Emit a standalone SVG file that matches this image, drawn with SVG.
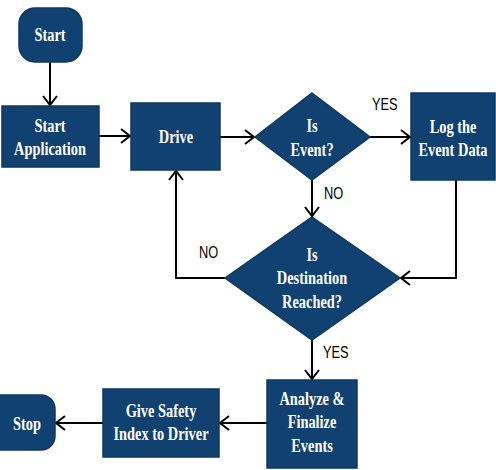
<svg xmlns="http://www.w3.org/2000/svg" width="496" height="470" viewBox="0 0 496 470">
<defs>
<marker id="ah" markerWidth="12" markerHeight="16" refX="10" refY="8" orient="auto" markerUnits="userSpaceOnUse">
<path d="M1,1 L10,8 L1,15" fill="none" stroke="#000" stroke-width="2"/>
</marker>
<style>
.n{fill:#114171;stroke:#0d3862;stroke-width:1.5}
.t{font-family:"Liberation Serif",serif;font-weight:bold;font-size:18px;fill:#fff;text-anchor:middle}
.l{font-family:"Liberation Sans",sans-serif;font-size:16px;fill:#000}
.c{fill:none;stroke:#000;stroke-width:2;marker-end:url(#ah)}
</style>
</defs>
<rect width="496" height="470" fill="#fff"/>
<g id="connectors">
<path class="c" d="M50,62 L50,105"/>
<path class="c" d="M99,136 L130,136"/>
<path class="c" d="M220,137 L254,137"/>
<path class="c" d="M370,137 L410,137"/>
<path class="c" d="M312,180 L312,216"/>
<path class="c" d="M456,180 L456,278 L401,278"/>
<path class="c" d="M225,278 L176,278 L176,171"/>
<path class="c" d="M312,340 L312,379"/>
<path class="c" d="M267,423 L220,423"/>
<path class="c" d="M103,423 L56,423"/>
<text class="l" transform="translate(372,110) scale(0.8,1)">YES</text>
<text class="l" transform="translate(324,199) scale(0.8,1)">NO</text>
<text class="l" transform="translate(199,258) scale(0.8,1)">NO</text>
<text class="l" transform="translate(323,358) scale(0.8,1)">YES</text>
</g>
<g id="start"><rect class="n" x="19" y="8" width="63" height="54" rx="16"/><text class="t" transform="translate(50,41) scale(0.8,1)">Start</text></g>
<g id="startapp"><rect class="n" x="2" y="106" width="97" height="61"/><text class="t" transform="translate(50,132) scale(0.8,1)">Start</text><text class="t" transform="translate(50,155) scale(0.8,1)">Application</text></g>
<g id="drive"><rect class="n" x="131" y="103" width="89" height="67"/><text class="t" transform="translate(176,143) scale(0.8,1)">Drive</text></g>
<g id="isevent"><polygon class="n" points="312,93 370,137 312,180 255,137"/><text class="t" transform="translate(312,132) scale(0.8,1)">Is</text><text class="t" transform="translate(312,156) scale(0.8,1)">Event?</text></g>
<g id="log"><rect class="n" x="411" y="93" width="84" height="87"/><text class="t" transform="translate(453,133) scale(0.8,1)">Log the</text><text class="t" transform="translate(453,156) scale(0.8,1)">Event Data</text></g>
<g id="dest"><polygon class="n" points="312,217 400,278 312,340 225,278"/><text class="t" transform="translate(312,261) scale(0.8,1)">Is</text><text class="t" transform="translate(312,284) scale(0.8,1)">Destination</text><text class="t" transform="translate(312,308) scale(0.8,1)">Reached?</text></g>
<g id="analyze"><rect class="n" x="267" y="380" width="90" height="88"/><text class="t" transform="translate(312,405) scale(0.8,1)">Analyze &amp;</text><text class="t" transform="translate(312,428) scale(0.8,1)">Finalize</text><text class="t" transform="translate(312,452) scale(0.8,1)">Events</text></g>
<g id="safety"><rect class="n" x="103" y="389" width="116" height="68"/><text class="t" transform="translate(161,417) scale(0.8,1)">Give Safety</text><text class="t" transform="translate(161,440) scale(0.8,1)">Index to Driver</text></g>
<g id="stop"><rect class="n" x="-16" y="395" width="71" height="55" rx="14"/><text class="t" transform="translate(27,430) scale(0.8,1)">Stop</text></g>
</svg>
